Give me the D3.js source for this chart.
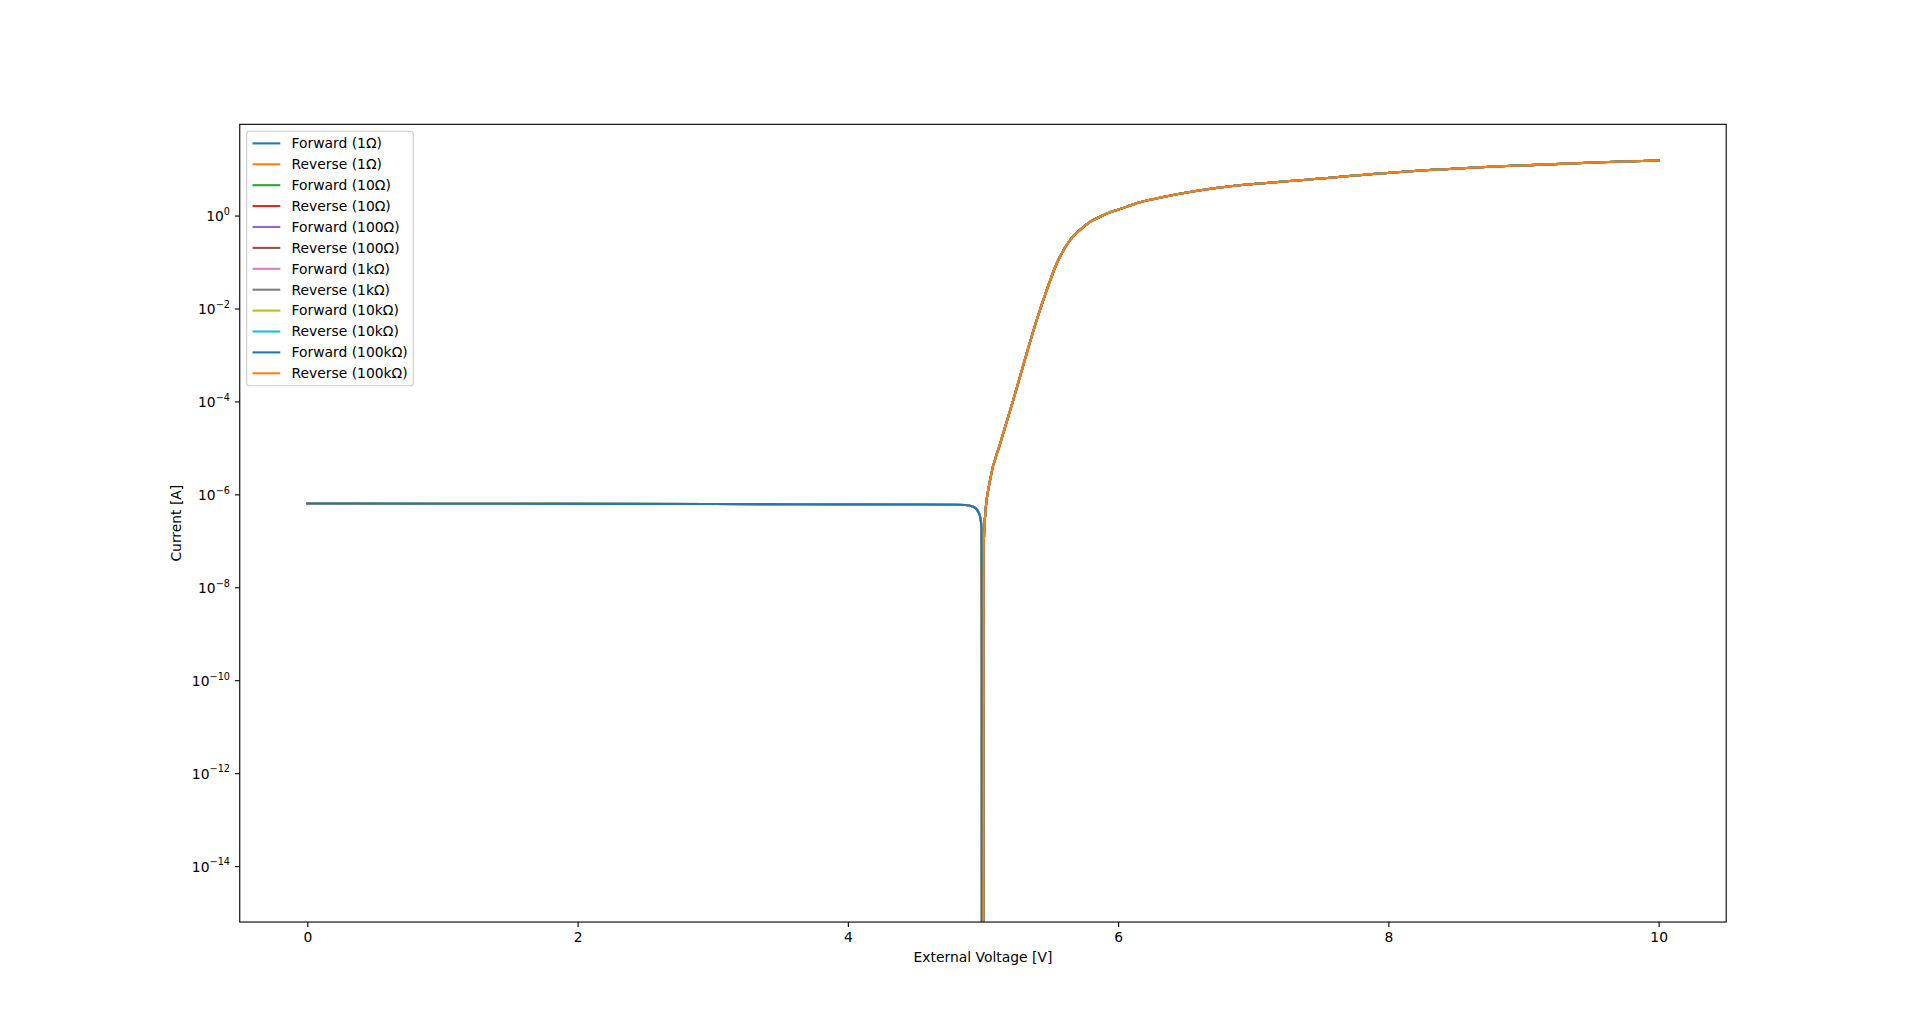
<!DOCTYPE html>
<html>
<head>
<meta charset="utf-8">
<script src="https://cdn.jsdelivr.net/npm/d3@7"></script>
<style>
  html, body { margin: 0; padding: 0; background: #fff; }
  svg { display: block; font-family: "DejaVu Sans", sans-serif; }
</style>
</head>
<body>
<svg id="chart" width="1918" height="1036"></svg>
<script>
// ---------------- data ----------------
const resistances = ["1Ω", "10Ω", "100Ω", "1kΩ", "10kΩ", "100kΩ"];

// Forward sweep: voltage [V] and current [A]
const forwardV = [0, 1, 2, 3, 4, 4.5, 4.8, 4.87, 4.93, 4.965, 4.982, 4.989, 4.991, 4.992,
                  5.002, 5.005, 5.015, 5.052, 5.126, 5.224, 5.323, 5.397, 5.471, 5.546, 5.644,
                  5.718, 5.792, 5.903, 6.014, 6.161, 6.335, 6.752, 7.346, 8.087, 8.827, 9.567, 10.0];
const forwardI = [6.35e-7, 6.3e-7, 6.25e-7, 6.2e-7, 6.1e-7, 6.05e-7, 6.0e-7, 5.9e-7, 5.4e-7, 4.2e-7, 3.0e-7, 1.8e-7, 3e-9, 1e-17,
                  1e-17, 6.3e-8, 3.2e-7, 2.0e-6, 1.2e-5, 1.07e-4, 1.07e-3, 5.6e-3, 2.46e-2, 9.3e-2, 0.295,
                  0.49, 0.728, 1.06, 1.38, 1.93, 2.51, 4.0, 5.74, 8.67, 11.5, 14.0, 15.3];

// Reverse sweep: voltage [V] and current [A] (only the positive part shows on the log axis)
const reverseV = [5.002, 5.005, 5.015, 5.052, 5.126, 5.224, 5.323, 5.397, 5.471, 5.546, 5.644,
                  5.718, 5.792, 5.903, 6.014, 6.161, 6.335, 6.752, 7.346, 8.087, 8.827, 9.567, 10.0];
const reverseI = [1e-17, 6.3e-8, 3.2e-7, 2.0e-6, 1.2e-5, 1.07e-4, 1.07e-3, 5.6e-3, 2.46e-2, 9.3e-2, 0.295,
                  0.49, 0.728, 1.06, 1.38, 1.93, 2.51, 4.0, 5.74, 8.67, 11.5, 14.0, 15.3];

const xTicks = [0, 2, 4, 6, 8, 10];
const yTickExponents = [0, -2, -4, -6, -8, -10, -12, -14];
const colors = ["#1f77b4", "#ff7f0e", "#2ca02c", "#d62728", "#9467bd",
                "#8c564b", "#e377c2", "#7f7f7f", "#bcbd22", "#17becf"];

// ---------------- layout ----------------
const W = 1918, H = 1036;
const L = 239.75, R = 1726.2, T = 124.32, B = 922.04;
const FS = 13.89;

const svg = d3.select("#chart");

const x = d3.scaleLinear().domain([-0.5, 10.5]).range([L, R]);
const y = d3.scaleLog().domain([6.25e-16, 92]).range([B, T]);

// series list
const series = [];
resistances.forEach(r => {
  series.push({ name: `Forward (${r})`, v: forwardV, i: forwardI });
  series.push({ name: `Reverse (${r})`, v: reverseV, i: reverseI });
});
series.forEach((s, k) => s.color = colors[k % colors.length]);

svg.append("defs").append("clipPath").attr("id", "plotclip")
  .append("rect").attr("x", L).attr("y", T).attr("width", R - L).attr("height", B - T);

const line = d3.line()
  .x(d => x(d[0]))
  .y(d => y(d[1]))
  .curve(d3.curveMonotoneX);

const gLines = svg.append("g").attr("clip-path", "url(#plotclip)");
series.forEach(s => {
  const pts = s.v.map((v, k) => [v, s.i[k]]);
  gLines.append("path")
    .attr("d", line(pts))
    .attr("fill", "none")
    .attr("stroke", s.color)
    .attr("stroke-width", 2.08)
    .attr("stroke-linejoin", "round")
    .attr("stroke-linecap", "square");
});

// ---------------- axes ----------------
const xAxis = d3.axisBottom(x).tickValues(xTicks).tickSize(4.86).tickPadding(4.86)
  .tickFormat(d3.format("d"));
const gx = svg.append("g").attr("transform", `translate(0,${B})`).call(xAxis);
gx.attr("font-family", null).attr("font-size", null);
gx.select(".domain").remove();
gx.selectAll("line").attr("stroke", "#000").attr("stroke-width", 1.11);
gx.selectAll("text").attr("font-size", FS).attr("fill", "#000");

const yAxis = d3.axisLeft(y).tickValues(yTickExponents.map(e => Math.pow(10, e)))
  .tickSize(4.86).tickPadding(4.86).tickFormat("");
const gy = svg.append("g").attr("transform", `translate(${L},0)`).call(yAxis);
gy.attr("font-family", null).attr("font-size", null);
gy.select(".domain").remove();
gy.selectAll("line").attr("stroke", "#000").attr("stroke-width", 1.11);
gy.selectAll(".tick").each(function(d) {
  const e = Math.round(Math.log10(d));
  const t = d3.select(this).select("text")
    .attr("x", -9.72).attr("dy", null).attr("y", 5)
    .attr("text-anchor", "end").attr("font-size", FS).attr("fill", "#000");
  t.text(null);
  t.append("tspan").text("10");
  t.append("tspan").attr("font-size", FS * 0.7).attr("dy", -6.2)
    .text(e < 0 ? "\u2212" + Math.abs(e) : String(e));
});

// frame
svg.append("rect").attr("x", L).attr("y", T).attr("width", R - L).attr("height", B - T)
  .attr("fill", "none").attr("stroke", "#000").attr("stroke-width", 1.11);

// axis labels
svg.append("text").attr("x", (L + R) / 2).attr("y", 961.5)
  .attr("text-anchor", "middle").attr("font-size", FS).text("External Voltage [V]");
svg.append("text").attr("transform", `translate(180.5,${(T + B) / 2}) rotate(-90)`)
  .attr("text-anchor", "middle").attr("font-size", FS).text("Current [A]");

// ---------------- legend ----------------
const lg = svg.append("g");
const lgBox = lg.append("rect");
const rowH = 20.9, firstRow = 143.4;
const textX = 291.5;
let maxW = 0;
series.forEach((s, k) => {
  const cy = firstRow + k * rowH;
  lg.append("line").attr("x1", 252.5).attr("x2", 280.3).attr("y1", cy).attr("y2", cy)
    .attr("stroke", s.color).attr("stroke-width", 2.08);
  const t = lg.append("text").attr("x", textX).attr("y", cy + 4.8)
    .attr("font-size", FS).attr("fill", "#000").text(s.name);
  maxW = Math.max(maxW, t.node().getComputedTextLength());
});
const bx = L + 6.94, by = T + 6.94;
lgBox.attr("x", bx).attr("y", by)
  .attr("width", textX + maxW + 5.56 - bx)
  .attr("height", 385.7 - by)
  .attr("rx", 2.78).attr("ry", 2.78)
  .attr("fill", "#fff").attr("fill-opacity", 0.8)
  .attr("stroke", "#cccccc").attr("stroke-width", 1.11);
</script>
</body>
</html>
